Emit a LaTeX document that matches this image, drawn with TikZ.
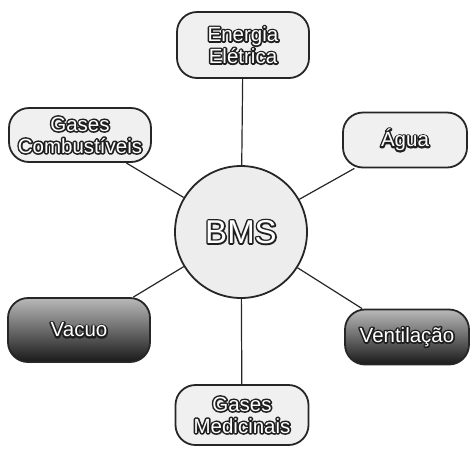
\documentclass[tikz,border=0pt]{standalone}
\usepackage{fontspec}
\setmainfont{Liberation Sans}
% white lettering over a dark stroked copy (text render mode 1) for a halo
\newcommand\hl[1]{\rlap{\special{pdf:literal direct 0.12 G 3.2 w 1 j 1 Tr}#1\special{pdf:literal direct 0 Tr}}\textcolor{white}{#1}}
\tikzset{
  pill/.style={rectangle, rounded corners=20pt, draw=black!85, line width=1.8pt,
    minimum width=#1, inner sep=0pt, align=center,
    font=\fontsize{20.5}{22}\selectfont},
  light/.style={fill=gray!12},
  dark/.style={top color=gray!55, bottom color=black!90, shading angle=0},
  link/.style={draw=black!85, line width=1.2pt},
  hub/.style={circle, draw=black!85, line width=1.8pt, fill=gray!14,
    minimum size=132pt, inner sep=0pt,
    font=\fontsize{33}{35}\selectfont}
}
\begin{document}
\begin{tikzpicture}[x=1pt,y=-1pt]
\useasboundingbox (0,0) rectangle (470,448);
\node[hub] (bms) at (241,232) {\hl{BMS}};
\node[pill=132pt, light, minimum height=66pt] (ener) at (243,45) {\hl{Energia}\\\hl{Elétrica}};
\node[pill=142pt, light, minimum height=54pt] (comb) at (80,135) {\hl{Gases}\\\hl{Combustíveis}};
\node[pill=124pt, light, minimum height=55pt] (agua) at (405,140) {\hl{Água}};
\node[pill=142pt, dark, minimum height=64pt] (vac) at (79,330) {\hl{Vacuo}};
\node[pill=124pt, dark, minimum height=55pt] (vent) at (407,337) {\hl{Ventilação}};
\node[pill=133pt, light, minimum height=60pt] (med) at (242,415) {\hl{Gases}\\\hl{Medicinais}};
\foreach \n in {ener,comb,agua,vac,vent,med}
  \draw[link] (bms) -- (\n);
\end{tikzpicture}
\end{document}
